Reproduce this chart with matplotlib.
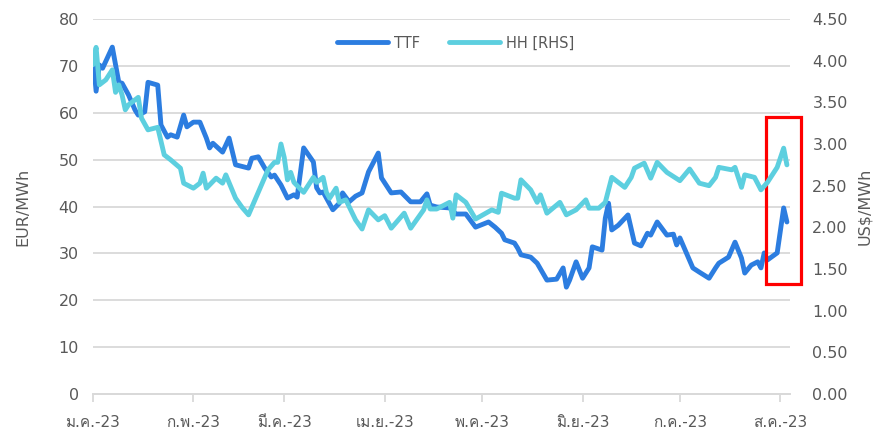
import pandas as pd
import matplotlib
matplotlib.use('Agg')
import matplotlib.pyplot as plt
import matplotlib.dates as mdates
from matplotlib import font_manager
from matplotlib.ft2font import FT2Font
from matplotlib.patches import Rectangle

# TTF (EUR/MWh, left axis)
ttf_dates = ['2023-01-01', '2023-01-02', '2023-01-03', '2023-01-04', '2023-01-07', '2023-01-09',
             '2023-01-10', '2023-01-12', '2023-01-14', '2023-01-15', '2023-01-17', '2023-01-18',
             '2023-01-21', '2023-01-22', '2023-01-24', '2023-01-25', '2023-01-27', '2023-01-29',
             '2023-01-30', '2023-02-01', '2023-02-03', '2023-02-05', '2023-02-06', '2023-02-07',
             '2023-02-10', '2023-02-12', '2023-02-14', '2023-02-18', '2023-02-19', '2023-02-21',
             '2023-02-23', '2023-02-25', '2023-02-26', '2023-02-28', '2023-03-02', '2023-03-04',
             '2023-03-05', '2023-03-07', '2023-03-10', '2023-03-11', '2023-03-12', '2023-03-13',
             '2023-03-16', '2023-03-18', '2023-03-19', '2023-03-21', '2023-03-23', '2023-03-25',
             '2023-03-27', '2023-03-30', '2023-03-31', '2023-04-03', '2023-04-06', '2023-04-09',
             '2023-04-12', '2023-04-14', '2023-04-15', '2023-04-17', '2023-04-21', '2023-04-23',
             '2023-04-26', '2023-04-29', '2023-05-03', '2023-05-05', '2023-05-07', '2023-05-08',
             '2023-05-11', '2023-05-12', '2023-05-13', '2023-05-16', '2023-05-18', '2023-05-21',
             '2023-05-24', '2023-05-26', '2023-05-27', '2023-05-28', '2023-05-30', '2023-06-01',
             '2023-06-03', '2023-06-04', '2023-06-07', '2023-06-08', '2023-06-09', '2023-06-10',
             '2023-06-12', '2023-06-15', '2023-06-17', '2023-06-19', '2023-06-21', '2023-06-22',
             '2023-06-24', '2023-06-27', '2023-06-29', '2023-06-30', '2023-07-01', '2023-07-03',
             '2023-07-05', '2023-07-07', '2023-07-10', '2023-07-12', '2023-07-13', '2023-07-16',
             '2023-07-18', '2023-07-20', '2023-07-21', '2023-07-23', '2023-07-25', '2023-07-26',
             '2023-07-27', '2023-07-28', '2023-07-31', '2023-08-02', '2023-08-03']
ttf = [72.3, 64.6, 70.2, 69.5, 74.0, 66.5,
       66.3, 63.8, 60.6, 59.5, 60.2, 66.5,
       65.9, 57.4, 54.8, 55.3, 54.8, 59.5,
       57.0, 58.0, 58.0, 54.6, 52.5, 53.5,
       51.6, 54.6, 48.9, 48.2, 50.3, 50.6,
       48.2, 46.3, 46.7, 44.6, 41.8, 42.5,
       42.0, 52.5, 49.5, 44.0, 42.9, 43.1,
       39.3, 40.7, 42.9, 41.0, 42.2, 42.9,
       47.4, 51.4, 46.1, 42.9, 43.1, 41.0,
       41.0, 42.7, 40.3, 39.9, 39.7, 38.4,
       38.4, 35.6, 36.7, 35.6, 34.3, 32.9,
       32.2, 31.1, 29.7, 29.2, 27.9, 24.3,
       24.5, 26.9, 22.8, 24.3, 28.2, 24.7,
       26.9, 31.4, 30.7, 37.5, 40.7, 35.0,
       36.0, 38.2, 32.2, 31.6, 34.3, 33.9,
       36.7, 33.9, 34.1, 31.8, 33.3, 30.1,
       26.9, 26.0, 24.7, 26.9, 27.9, 29.2,
       32.4, 29.0, 25.8, 27.5, 28.2, 26.9,
       30.1, 28.6, 30.1, 39.7, 36.7]

# Henry Hub (US$/MWh, right axis)
hh_dates = ['2023-01-01', '2023-01-02', '2023-01-03', '2023-01-05', '2023-01-07', '2023-01-08',
            '2023-01-09', '2023-01-10', '2023-01-11', '2023-01-12', '2023-01-15', '2023-01-16',
            '2023-01-18', '2023-01-21', '2023-01-23', '2023-01-25', '2023-01-28', '2023-01-29',
            '2023-02-01', '2023-02-03', '2023-02-04', '2023-02-05', '2023-02-08', '2023-02-10',
            '2023-02-11', '2023-02-14', '2023-02-16', '2023-02-18', '2023-02-21', '2023-02-24',
            '2023-02-26', '2023-02-27', '2023-02-28', '2023-03-01', '2023-03-02', '2023-03-03',
            '2023-03-04', '2023-03-07', '2023-03-10', '2023-03-11', '2023-03-13', '2023-03-14',
            '2023-03-15', '2023-03-17', '2023-03-18', '2023-03-20', '2023-03-23', '2023-03-25',
            '2023-03-27', '2023-03-30', '2023-04-01', '2023-04-03', '2023-04-07', '2023-04-09',
            '2023-04-13', '2023-04-14', '2023-04-15', '2023-04-17', '2023-04-21', '2023-04-22',
            '2023-04-23', '2023-04-26', '2023-04-29', '2023-05-04', '2023-05-06', '2023-05-07',
            '2023-05-11', '2023-05-12', '2023-05-13', '2023-05-16', '2023-05-18', '2023-05-19',
            '2023-05-21', '2023-05-25', '2023-05-27', '2023-05-30', '2023-06-02', '2023-06-03',
            '2023-06-06', '2023-06-08', '2023-06-10', '2023-06-14', '2023-06-16', '2023-06-17',
            '2023-06-20', '2023-06-22', '2023-06-24', '2023-06-27', '2023-07-01', '2023-07-04',
            '2023-07-07', '2023-07-10', '2023-07-12', '2023-07-13', '2023-07-17', '2023-07-18',
            '2023-07-20', '2023-07-21', '2023-07-24', '2023-07-26', '2023-07-28', '2023-07-31',
            '2023-08-02', '2023-08-03']
hh = [3.95, 4.16, 3.71, 3.77, 3.89, 3.62,
      3.71, 3.59, 3.41, 3.47, 3.56, 3.31,
      3.17, 3.20, 2.87, 2.81, 2.71, 2.53,
      2.47, 2.53, 2.65, 2.47, 2.59, 2.53,
      2.63, 2.35, 2.24, 2.15, 2.42, 2.69,
      2.78, 2.78, 3.00, 2.84, 2.57, 2.66,
      2.54, 2.42, 2.60, 2.54, 2.60, 2.42,
      2.35, 2.47, 2.30, 2.33, 2.09, 1.98,
      2.21, 2.09, 2.14, 1.99, 2.17, 1.99,
      2.21, 2.33, 2.22, 2.22, 2.30, 2.11,
      2.39, 2.30, 2.10, 2.21, 2.18, 2.41,
      2.35, 2.35, 2.57, 2.45, 2.30, 2.39,
      2.17, 2.30, 2.15, 2.21, 2.33, 2.23,
      2.23, 2.30, 2.60, 2.48, 2.60, 2.71,
      2.77, 2.59, 2.78, 2.66, 2.56, 2.70,
      2.53, 2.50, 2.60, 2.72, 2.69, 2.72,
      2.48, 2.63, 2.60, 2.45, 2.54, 2.72,
      2.95, 2.75]

month_ticks = ['2023-01-01', '2023-02-01', '2023-03-01', '2023-04-01',
               '2023-05-01', '2023-06-01', '2023-07-01', '2023-08-01']
month_labels = ['ม.ค.-23', 'ก.พ.-23', 'มี.ค.-23', 'เม.ย.-23',
                'พ.ค.-23', 'มิ.ย.-23', 'ก.ค.-23', 'ส.ค.-23']

ttf_color = '#2C7DE0'
hh_color = '#5DCFDF'
text_color = '#595959'
grid_color = '#D9D9D9'


def find_thai_font():
    # look for any installed font that has Thai glyphs
    for f in font_manager.fontManager.ttflist:
        try:
            if ord('ม') in FT2Font(f.fname).get_charmap():
                return f.name
        except Exception:
            continue
    return None


families = ['DejaVu Sans']
thai = find_thai_font()
if thai and thai not in families:
    families.append(thai)
plt.rcParams['font.family'] = families

fig = plt.figure(figsize=(8.76, 4.36), dpi=100)
ax = fig.add_axes([0.106, 0.0963, 0.796, 0.8601])
ax2 = ax.twinx()

ttf_x = pd.to_datetime(ttf_dates)
hh_x = pd.to_datetime(hh_dates)
l1, = ax.plot(ttf_x, ttf, color=ttf_color, lw=3.5, solid_joinstyle='round',
              solid_capstyle='round', label='TTF')
l2, = ax2.plot(hh_x, hh, color=hh_color, lw=3.5, solid_joinstyle='round',
               solid_capstyle='round', label='HH [RHS]')

ax.set_xlim(pd.Timestamp('2023-01-01'), pd.Timestamp('2023-08-04'))
ax.set_ylim(0, 80)
ax2.set_ylim(0, 4.5)
ax.set_yticks(range(0, 81, 10))
ax2.set_yticks([i * 0.5 for i in range(10)])
ax2.yaxis.set_major_formatter(plt.FormatStrFormatter('%.2f'))

ax.set_xticks(pd.to_datetime(month_ticks))
ax.set_xticklabels(month_labels)

ax.grid(axis='y', color=grid_color, lw=1.3)
ax.set_axisbelow(True)
for a in (ax, ax2):
    for s in ('top', 'left', 'right'):
        a.spines[s].set_visible(False)
    a.spines['bottom'].set_color(grid_color)
    a.spines['bottom'].set_linewidth(1.3)
    a.tick_params(axis='y', length=0, labelsize=11.5, labelcolor=text_color)
ax.tick_params(axis='y', pad=10)
ax2.tick_params(axis='y', pad=16)
ax.tick_params(axis='x', length=6, color=grid_color, width=1.3,
               labelsize=11, labelcolor=text_color, pad=9)

ax.set_ylabel('EUR/MWh', fontsize=11.5, color=text_color)
ax.yaxis.set_label_coords(-0.090, 0.5)
ax2.set_ylabel('US$/MWh', fontsize=11.5, color=text_color)
ax2.yaxis.set_label_coords(1.096, 0.5)

ax2.legend(handles=[l1, l2], loc='center', bbox_to_anchor=(0.52, 0.936), ncol=2,
           frameon=False, fontsize=10.5, handlelength=3.5, handletextpad=0.4,
           columnspacing=2.0, labelcolor=text_color)

# red highlight box around the latest move
ax.add_patch(Rectangle((mdates.date2num(pd.Timestamp('2023-07-27 16:00')), 23.5),
                       10.8, 35.6, fill=False, edgecolor='#FF0000', lw=2.3,
                       clip_on=False, zorder=5))

fig.savefig('out.png', dpi=100)
